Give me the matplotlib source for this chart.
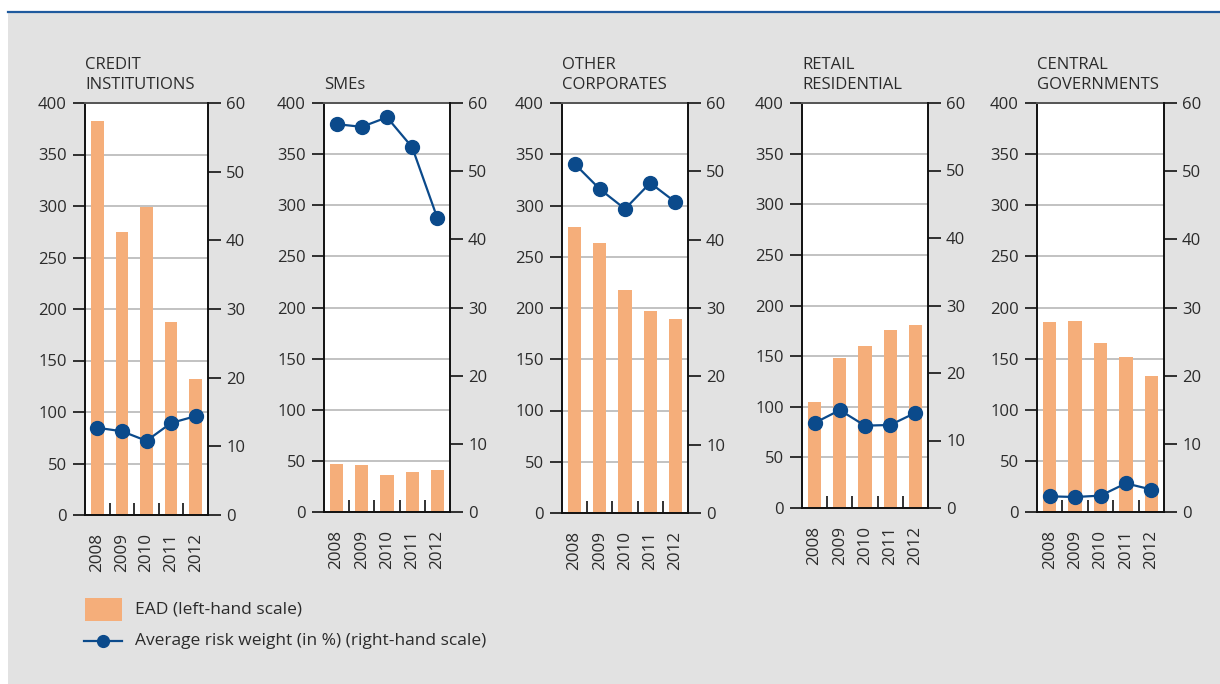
import matplotlib
matplotlib.use("Agg")
import matplotlib.pyplot as plt
from matplotlib.patches import Rectangle
from matplotlib.lines import Line2D
import numpy as np

plt.rcParams['font.family'] = ['Open Sans', 'DejaVu Sans']

years = ["2008", "2009", "2010", "2011", "2012"]
titles = ["CREDIT\nINSTITUTIONS", "SMEs", "OTHER\nCORPORATES", "RETAIL\nRESIDENTIAL", "CENTRAL\nGOVERNMENTS"]

ead_credit = [383, 275, 299, 187, 132]
ead_smes = [47, 46, 36, 39, 41]
ead_corp = [279, 263, 218, 197, 189]
ead_retail = [105, 148, 160, 176, 181]
ead_gov = [186, 187, 165, 152, 133]

rw_credit = [12.7, 12.2, 10.8, 13.4, 14.4]
rw_smes = [56.9, 56.5, 57.9, 53.5, 43.1]
rw_corp = [51.1, 47.4, 44.5, 48.3, 45.5]
rw_retail = [12.6, 14.5, 12.2, 12.3, 14.1]
rw_gov = [2.3, 2.2, 2.4, 4.2, 3.3]

ead_all = [ead_credit, ead_smes, ead_corp, ead_retail, ead_gov]
rw_all = [rw_credit, rw_smes, rw_corp, rw_retail, rw_gov]

legend_labels = ["EAD (left-hand scale)", "Average risk weight (in %) (right-hand scale)"]

BAR = "#F5AE7A"
LINE = "#0B4A8B"
TXT = "#2b2b2b"
BG = "#E2E2E2"

W, H = 1220, 684
fig = plt.figure(figsize=(W / 100, H / 100), dpi=100)
fig.patch.set_facecolor("white")
fig.add_artist(Rectangle((8 / W, 0), 1 - 8 / W, 1 - 13 / H, transform=fig.transFigure,
                         facecolor=BG, edgecolor="none", zorder=-10))
fig.add_artist(Line2D([8 / W, 1], [1 - 12.3 / H, 1 - 12.3 / H], transform=fig.transFigure,
                      color="#1F5A9E", lw=1.6))

lefts = [85, 324, 562, 802, 1037]
rights = [208, 450, 688, 928, 1164]
bottoms = [515, 512, 513, 508, 512]
top = 103

x = np.arange(len(years))
for i in range(5):
    l, r, b = lefts[i], rights[i], bottoms[i]
    ax = fig.add_axes([l / W, 1 - b / H, (r - l) / W, (b - top) / H])
    ax.set_facecolor("white")
    ax.bar(x, ead_all[i], width=0.52, color=BAR, zorder=2)
    ax.set_xlim(-0.5, 4.5)
    ax.set_ylim(0, 400)
    ax.set_yticks(np.arange(0, 401, 50))
    ax.yaxis.grid(True, color="#BDBDBD", lw=1.3, zorder=0)
    ax.set_axisbelow(True)
    ax.tick_params(axis="y", direction="out", length=9, width=1.3, color="#222222",
                   labelsize=12, labelcolor=TXT, pad=4)
    ax.set_xticks(x)
    ax.set_xticklabels(years, rotation=90, fontsize=12.3, color=TXT)
    ax.tick_params(axis="x", which="major", length=0, pad=13)
    ax.set_xticks(x[:-1] + 0.5, minor=True)
    ax.tick_params(axis="x", which="minor", direction="in", length=9, width=1.3, color="#222222")
    for s in ["left", "bottom"]:
        ax.spines[s].set_color("#111111")
        ax.spines[s].set_linewidth(1.4)
    ax.spines["top"].set_color("#555555")
    ax.spines["top"].set_linewidth(1.4)
    ax.spines["right"].set_visible(False)

    ax2 = ax.twinx()
    ax2.plot(x, rw_all[i], color=LINE, lw=1.6, marker="o", markersize=10, zorder=5)
    ax2.set_ylim(0, 60)
    ax2.set_yticks(np.arange(0, 61, 10))
    ax2.tick_params(axis="y", direction="out", length=9, width=1.3, color="#222222",
                    labelsize=12, labelcolor=TXT, pad=4)
    for s in ["left", "bottom", "top"]:
        ax2.spines[s].set_visible(False)
    ax2.spines["right"].set_color("#111111")
    ax2.spines["right"].set_linewidth(1.4)
    ax2.set_xlim(-0.5, 4.5)

    fig.text(l / W, 1 - 89 / H, titles[i], ha="left", va="baseline", fontsize=12,
             color=TXT, linespacing=1.3)

# legend
fig.add_artist(Rectangle((85 / W, 1 - 621 / H), 37 / W, 23 / H, transform=fig.transFigure,
                         facecolor=BAR, edgecolor="none"))
fig.text(135 / W, 1 - 610 / H, legend_labels[0], ha="left", va="center", fontsize=12.5, color=TXT)
fig.add_artist(Line2D([84 / W, 122 / W], [1 - 641 / H, 1 - 641 / H], transform=fig.transFigure,
                      color=LINE, lw=1.6))
fig.add_artist(Line2D([103 / W], [1 - 641 / H], transform=fig.transFigure, color=LINE,
                      marker="o", markersize=8.5, lw=0))
fig.text(135 / W, 1 - 641 / H, legend_labels[1], ha="left", va="center", fontsize=12.5, color=TXT)

fig.savefig("out.png", dpi=100, facecolor=fig.get_facecolor())
